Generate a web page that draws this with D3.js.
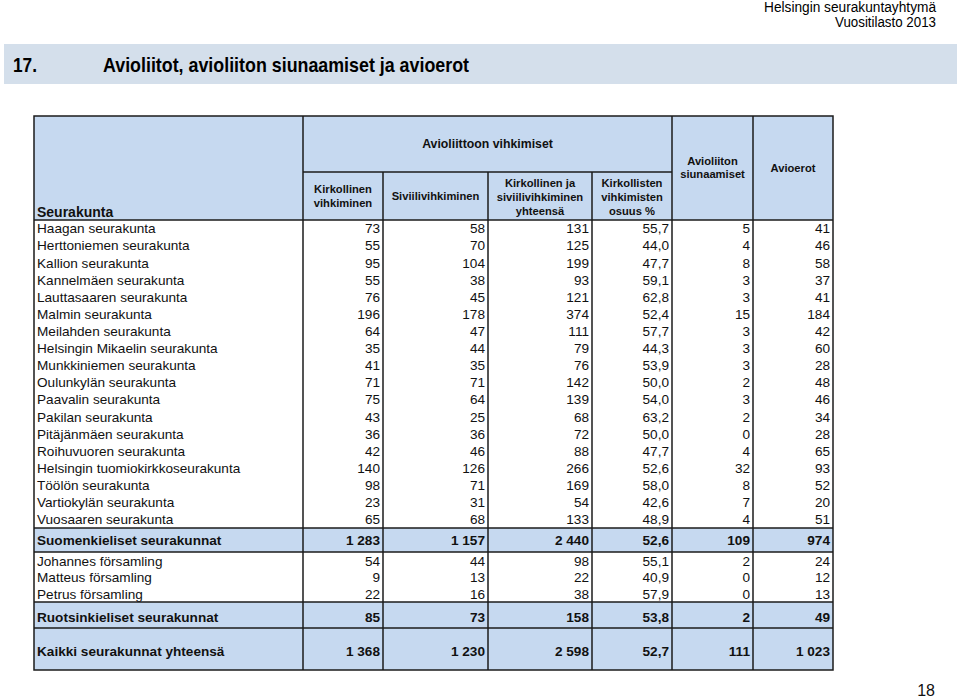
<!DOCTYPE html>
<html>
<head>
<meta charset="utf-8">
<script src="https://cdn.jsdelivr.net/npm/d3@7"></script>
<style>
  html, body { margin: 0; padding: 0; background: #fff; }
  svg { display: block; font-family: "Liberation Sans", Arial, sans-serif; }
</style>
</head>
<body>
<svg id="chart" width="960" height="699"></svg>
<script>
// ---------- DATA ----------
const finnishParishes = [
  "Haagan seurakunta", "Herttoniemen seurakunta", "Kallion seurakunta", "Kannelmäen seurakunta",
  "Lauttasaaren seurakunta", "Malmin seurakunta", "Meilahden seurakunta", "Helsingin Mikaelin seurakunta",
  "Munkkiniemen seurakunta", "Oulunkylän seurakunta", "Paavalin seurakunta", "Pakilan seurakunta",
  "Pitäjänmäen seurakunta", "Roihuvuoren seurakunta", "Helsingin tuomiokirkkoseurakunta", "Töölön seurakunta",
  "Vartiokylän seurakunta", "Vuosaaren seurakunta"
];
const finKirkollinen = [73, 55, 95, 55, 76, 196, 64, 35, 41, 71, 75, 43, 36, 42, 140, 98, 23, 65];
const finSiviili     = [58, 70, 104, 38, 45, 178, 47, 44, 35, 71, 64, 25, 36, 46, 126, 71, 31, 68];
const finYhteensa    = [131, 125, 199, 93, 121, 374, 111, 79, 76, 142, 139, 68, 72, 88, 266, 169, 54, 133];
const finOsuus       = [55.7, 44.0, 47.7, 59.1, 62.8, 52.4, 57.7, 44.3, 53.9, 50.0, 54.0, 63.2, 50.0, 47.7, 52.6, 58.0, 42.6, 48.9];
const finSiunaamiset = [5, 4, 8, 3, 3, 15, 3, 3, 3, 2, 3, 2, 0, 4, 32, 8, 7, 4];
const finAvioerot    = [41, 46, 58, 37, 41, 184, 42, 60, 28, 48, 46, 34, 28, 65, 93, 52, 20, 51];

const swedishParishes = ["Johannes församling", "Matteus församling", "Petrus församling"];
const sweKirkollinen = [54, 9, 22];
const sweSiviili     = [44, 13, 16];
const sweYhteensa    = [98, 22, 38];
const sweOsuus       = [55.1, 40.9, 57.9];
const sweSiunaamiset = [2, 0, 0];
const sweAvioerot    = [24, 12, 13];

const totalLabels      = ["Suomenkieliset seurakunnat", "Ruotsinkieliset seurakunnat", "Kaikki seurakunnat yhteensä"];
const totalKirkollinen = [1283, 85, 1368];
const totalSiviili     = [1157, 73, 1230];
const totalYhteensa    = [2440, 158, 2598];
const totalOsuus       = [52.6, 53.8, 52.7];
const totalSiunaamiset = [109, 2, 111];
const totalAvioerot    = [974, 49, 1023];

const columnKeys = ["name", "kirk", "sivi", "yht", "osuus", "siun", "ero"];

// ---------- LAYOUT ----------
const svg = d3.select("#chart");
const fi = d3.formatLocale({ decimal: ",", thousands: "\u00a0", grouping: [3], currency: ["", ""] });
const fmtInt = fi.format(",d");
const fmtPct = fi.format(",.1f");
const fmts = [null, fmtInt, fmtInt, fmtInt, fmtPct, fmtInt, fmtInt];

const colEdges = [34, 303, 383, 488, 592, 672, 753, 833];
const xLeft = d3.scaleOrdinal().domain(columnKeys).range(colEdges.slice(0, 7));
const xRight = d3.scaleOrdinal().domain(columnKeys).range(colEdges.slice(1));

const tableTop = 116, groupLine = 172, headBottom = 220;
const finTop = 220, finBottom = 528;
const totRows = [[528, 552], [602, 628], [628, 670]];
const sweTop = 552, sweBottom = 602;
const tableBottom = 670;
const headFill = "#c6d9f0";
const lineColor = "#1b1b1b";
const bodySize = 13.6;

// page header text
svg.append("text").attr("x", 936).attr("y", 12).attr("text-anchor", "end")
  .attr("font-size", 14).attr("textLength", 172).attr("lengthAdjust", "spacingAndGlyphs")
  .style("font-family", "'Liberation Sans Narrow', 'Arial Narrow', 'Liberation Sans', sans-serif")
  .text("Helsingin seurakuntayhtymä");
svg.append("text").attr("x", 936).attr("y", 27).attr("text-anchor", "end")
  .attr("font-size", 14).attr("textLength", 101).attr("lengthAdjust", "spacingAndGlyphs")
  .style("font-family", "'Liberation Sans Narrow', 'Arial Narrow', 'Liberation Sans', sans-serif")
  .text("Vuositilasto 2013");

// title band
svg.append("rect").attr("x", 4).attr("y", 44).attr("width", 953).attr("height", 40).attr("fill", "#d4dfeb");
svg.append("text").attr("x", 13).attr("y", 72).attr("font-size", 21).attr("font-weight", "bold")
  .attr("textLength", 24).attr("lengthAdjust", "spacingAndGlyphs")
  .style("font-family", "'Liberation Sans Narrow', 'Arial Narrow', 'Liberation Sans', sans-serif")
  .text("17.");
svg.append("text").attr("x", 103).attr("y", 72).attr("font-size", 21).attr("font-weight", "bold")
  .attr("textLength", 366).attr("lengthAdjust", "spacingAndGlyphs")
  .style("font-family", "'Liberation Sans Narrow', 'Arial Narrow', 'Liberation Sans', sans-serif")
  .text("Avioliitot, avioliiton siunaamiset ja avioerot");

// fills
const g = svg.append("g");
g.append("rect").attr("x", colEdges[0]).attr("y", tableTop).attr("width", colEdges[7] - colEdges[0])
  .attr("height", headBottom - tableTop).attr("fill", headFill);
totRows.forEach(r => {
  g.append("rect").attr("x", colEdges[0]).attr("y", r[0]).attr("width", colEdges[7] - colEdges[0])
    .attr("height", r[1] - r[0]).attr("fill", headFill);
});

// header texts
const hdr = g.append("g").attr("font-weight", "bold").attr("fill", "#111");
hdr.append("text").attr("x", 37).attr("y", 217).attr("font-size", 14).text("Seurakunta");
hdr.append("text").attr("x", (colEdges[1] + colEdges[5]) / 2).attr("y", 148).attr("text-anchor", "middle")
  .attr("font-size", 12.3).text("Avioliittoon vihkimiset");
function multiLine(lines, cx, cy, size, lh) {
  const t = hdr.append("text").attr("text-anchor", "middle").attr("font-size", size);
  const y0 = cy - (lines.length - 1) * lh / 2 + size * 0.36;
  lines.forEach((l, i) => t.append("tspan").attr("x", cx).attr("y", y0 + i * lh).text(l));
}
const mid = k => (xLeft(k) + xRight(k)) / 2;
multiLine(["Kirkollinen", "vihkiminen"], mid("kirk"), 196, 11.2, 14);
multiLine(["Siviilivihkiminen"], mid("sivi"), 196, 11.2, 14);
multiLine(["Kirkollinen ja", "siviilivihkiminen", "yhteensä"], mid("yht"), 197, 11.2, 14);
multiLine(["Kirkollisten", "vihkimisten", "osuus %"], mid("osuus"), 197, 11.2, 14);
multiLine(["Avioliiton", "siunaamiset"], mid("siun"), 167.5, 11.2, 13);
multiLine(["Avioerot"], mid("ero"), 168, 11.2, 14);

// rows
function drawRow(vals, yBase, bold) {
  const rg = g.append("g").attr("font-size", bodySize).attr("fill", "#111").attr("font-weight", bold ? "bold" : "normal");
  rg.append("text").attr("x", xLeft("name") + 3).attr("y", yBase).text(vals[0]);
  for (let i = 1; i < columnKeys.length; i++) {
    rg.append("text").attr("x", xRight(columnKeys[i]) - 3).attr("y", yBase).attr("text-anchor", "end")
      .text(fmts[i](vals[i]));
  }
}
const yFin = d3.scaleBand().domain(finnishParishes).range([finTop, finBottom]);
finnishParishes.forEach((n, i) => {
  drawRow([n, finKirkollinen[i], finSiviili[i], finYhteensa[i], finOsuus[i], finSiunaamiset[i], finAvioerot[i]],
    yFin(n) + yFin.bandwidth() / 2 + 4.8, false);
});
const ySwe = d3.scaleBand().domain(swedishParishes).range([sweTop, sweBottom]);
swedishParishes.forEach((n, i) => {
  drawRow([n, sweKirkollinen[i], sweSiviili[i], sweYhteensa[i], sweOsuus[i], sweSiunaamiset[i], sweAvioerot[i]],
    ySwe(n) + ySwe.bandwidth() / 2 + 5.3, false);
});
const totBaseOffset = [7.3, 6.3, 14.3];
totalLabels.forEach((n, i) => {
  drawRow([n, totalKirkollinen[i], totalSiviili[i], totalYhteensa[i], totalOsuus[i], totalSiunaamiset[i], totalAvioerot[i]],
    totRows[i][1] - totBaseOffset[i], true);
});

// lines
const lg = g.append("g").attr("stroke", lineColor).attr("stroke-width", 1.5).attr("fill", "none");
const hline = (x1, x2, y) => lg.append("line").attr("x1", x1).attr("x2", x2).attr("y1", y).attr("y2", y);
const vline = (x, y1, y2) => lg.append("line").attr("x1", x).attr("x2", x).attr("y1", y1).attr("y2", y2);
hline(colEdges[1], colEdges[5], groupLine);
[headBottom, finBottom, sweTop, sweBottom, totRows[2][0]].forEach(y => hline(colEdges[0], colEdges[7], y));
[colEdges[1], colEdges[5], colEdges[6]].forEach(x => vline(x, tableTop, tableBottom));
[colEdges[2], colEdges[3], colEdges[4]].forEach(x => vline(x, groupLine, tableBottom));
lg.append("rect").attr("x", colEdges[0]).attr("y", tableTop).attr("width", colEdges[7] - colEdges[0])
  .attr("height", tableBottom - tableTop);

// page number
svg.append("text").attr("x", 935).attr("y", 696).attr("text-anchor", "end").attr("font-size", 16)
  .attr("fill", "#111").text("18");
</script>
</body>
</html>
